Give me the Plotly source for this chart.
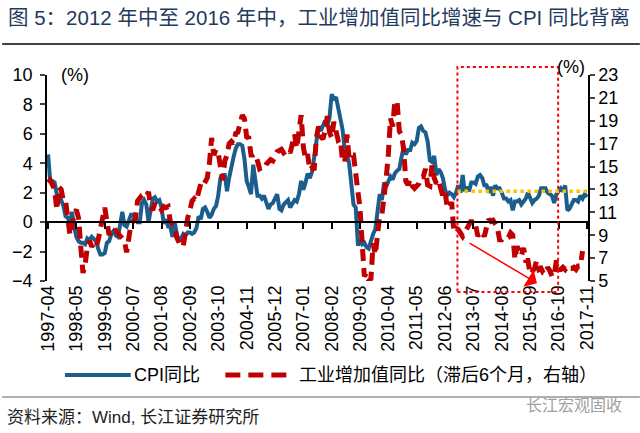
import pandas as pd
import plotly.graph_objects as go

# ---------------- data ----------------
# CPI YoY (%), monthly 1997-04 .. 2017-11 (left axis)
cpi_1997 = [4.6, 2.8, 2.8, 2.7, 1.9, 1.8, 1.5, 1.1, 0.4]
cpi_1998 = [0.3, -0.1, 0.7, -0.3, -1.0, -1.3, -1.4, -1.4, -1.5, -1.1, -1.2, -1.0]
cpi_1999 = [-1.2, -1.3, -1.8, -2.2, -2.2, -2.1, -1.4, -1.3, -0.8, -0.6, -0.9, -1.0]
cpi_2000 = [-0.2, 0.7, -0.2, -0.3, 0.1, 0.5, 0.5, 0.3, 0.0, 0.0, 1.3, 1.5]
cpi_2001 = [1.2, 0.0, 0.8, 1.6, 1.7, 1.4, 1.5, 1.0, -0.1, 0.2, -0.3, -0.3]
cpi_2002 = [-1.0, 0.0, -0.8, -1.3, -1.1, -0.8, -0.9, -0.7, -0.7, -0.8, -0.7, -0.4]
cpi_2003 = [0.4, 0.2, 0.9, 1.0, 0.7, 0.3, 0.5, 0.9, 1.1, 1.8, 3.0, 3.2]
cpi_2004 = [3.2, 2.1, 3.0, 3.8, 4.4, 5.0, 5.3, 5.3, 5.2, 4.3, 2.8, 2.4]
cpi_2005 = [1.9, 3.9, 2.7, 1.8, 1.8, 1.6, 1.8, 1.3, 0.9, 1.2, 1.3, 1.6]
cpi_2006 = [1.9, 0.9, 0.8, 1.2, 1.4, 1.5, 1.0, 1.3, 1.5, 1.4, 1.9, 2.8]
cpi_2007 = [2.2, 2.7, 3.3, 3.0, 3.4, 4.4, 5.6, 6.5, 6.2, 6.5, 6.9, 6.5]
cpi_2008 = [7.1, 8.7, 8.3, 8.5, 7.7, 7.1, 6.3, 4.9, 4.6, 4.0, 2.4, 1.2]
cpi_2009 = [1.0, -1.6, -1.2, -1.5, -1.4, -1.7, -1.8, -1.2, -0.8, -0.5, 0.6, 1.9]
cpi_2010 = [1.5, 2.7, 2.4, 2.8, 3.1, 2.9, 3.3, 3.5, 3.6, 4.4, 5.1, 4.6]
cpi_2011 = [4.9, 4.9, 5.4, 5.3, 5.5, 6.4, 6.5, 6.2, 6.1, 5.5, 4.2, 4.1]
cpi_2012 = [4.5, 3.2, 3.6, 3.4, 3.0, 2.2, 1.8, 2.0, 1.9, 1.7, 2.0, 2.5]
cpi_2013 = [2.0, 3.2, 2.1, 2.4, 2.1, 2.7, 2.7, 2.6, 3.1, 3.2, 3.0, 2.5]
cpi_2014 = [2.5, 2.0, 2.4, 1.8, 2.5, 2.3, 2.3, 2.0, 1.6, 1.6, 1.4, 1.5]
cpi_2015 = [0.8, 1.4, 1.4, 1.5, 1.2, 1.4, 1.6, 2.0, 1.6, 1.3, 1.5, 1.6]
cpi_2016 = [1.8, 2.3, 2.3, 2.3, 2.0, 1.9, 1.8, 1.3, 1.9, 2.1, 2.3, 2.1]
cpi_2017 = [2.5, 0.8, 0.9, 1.2, 1.5, 1.5, 1.4, 1.8, 1.6, 1.9, 1.7]

# Industrial value added YoY (%), source months 1996-10 .. 2017-03,
# plotted 6 months later (1997-04 .. 2017-09), right axis
iva_1996 = [13.6, 13.8, 13.4]
iva_1997 = [13.0, 11.2, 13.2, 13.0, 12.0, 12.0, 10.5, 9.0, 9.8, 11.0, 11.2, 10.5]
iva_1998 = [8.0, 5.7, 6.5, 8.0, 8.5, 8.0, 8.3, 8.0, 8.6, 9.7, 10.5, 11.4]
iva_1999 = [10.2, 9.0, 9.5, 9.3, 9.4, 9.2, 9.0, 8.8, 8.5, 7.5, 8.6, 10.0]
iva_2000 = [10.2, 10.5, 12.0, 12.3, 12.5, 12.6, 12.4, 12.8, 11.5, 11.2, 11.8, 11.5]
iva_2001 = [11.5, 11.2, 11.5, 11.4, 11.5, 10.2, 10.0, 9.8, 8.8, 8.3, 8.0, 8.1]
iva_2002 = [9.5, 10.5, 11.2, 12.0, 12.2, 12.0, 12.8, 13.5, 13.3, 13.8, 14.0, 15.3]
iva_2003 = [17.5, 16.0, 16.5, 16.2, 15.0, 13.8, 15.5, 16.0, 17.0, 17.2, 17.0, 17.9]
iva_2004 = [18.0, 19.0, 19.5, 19.2, 17.6, 17.5, 16.0, 16.0, 16.1, 15.5, 14.8, 14.9]
iva_2005 = [14.8, 15.2, 15.5, 15.6, 15.5, 16.0, 16.3, 16.4, 16.5, 16.2, 16.4, 16.5]
iva_2006 = [16.2, 17.3, 17.8, 16.6, 17.9, 19.5, 16.7, 15.7, 16.1, 14.7, 14.9, 14.7]
iva_2007 = [17.5, 18.5, 17.6, 17.4, 18.1, 19.4, 18.0, 17.5, 18.9, 17.9, 17.3, 17.4]
iva_2008 = [15.4, 15.4, 17.8, 15.7, 16.0, 16.0, 14.7, 12.8, 11.4, 8.2, 5.4, 5.7]
iva_2009 = [5.0, 5.2, 8.3, 7.3, 8.9, 10.7, 10.8, 12.3, 13.9, 16.1, 19.2, 18.5]
iva_2010 = [20.7, 20.7, 18.1, 17.8, 16.5, 13.7, 13.4, 13.9, 13.3, 13.1, 13.3, 13.5]
iva_2011 = [14.1, 14.1, 14.8, 13.4, 13.3, 15.1, 14.0, 13.5, 13.8, 13.2, 12.4, 12.8]
iva_2012 = [11.4, 11.4, 11.9, 9.3, 9.6, 9.5, 9.2, 8.9, 9.2, 9.6, 10.1, 10.3]
iva_2013 = [9.9, 9.9, 8.9, 9.3, 9.2, 8.9, 9.7, 10.4, 10.2, 10.3, 10.0, 9.7]
iva_2014 = [8.6, 8.6, 8.8, 8.7, 8.8, 9.2, 9.0, 6.9, 8.0, 7.7, 7.2, 7.9]
iva_2015 = [6.8, 6.8, 5.6, 5.9, 6.1, 6.8, 6.0, 6.1, 5.7, 5.6, 6.2, 5.9]
iva_2016 = [5.4, 5.4, 6.8, 6.0, 6.0, 6.2, 6.0, 6.3, 6.1, 6.1, 6.2, 6.0]
iva_2017 = [6.3, 6.3, 7.6]

x_tick_labels = ["1997-04", "1998-05", "1999-06", "2000-07", "2001-08", "2002-09",
                 "2003-10", "2004-11", "2005-12", "2007-01", "2008-02", "2009-03",
                 "2010-04", "2011-05", "2012-06", "2013-07", "2014-08", "2015-09",
                 "2016-10", "2017-11"]

series_names = ["CPI同比", "工业增加值同比（滞后6个月，右轴）"]

cpi = (cpi_1997 + cpi_1998 + cpi_1999 + cpi_2000 + cpi_2001 + cpi_2002 + cpi_2003
       + cpi_2004 + cpi_2005 + cpi_2006 + cpi_2007 + cpi_2008 + cpi_2009 + cpi_2010
       + cpi_2011 + cpi_2012 + cpi_2013 + cpi_2014 + cpi_2015 + cpi_2016 + cpi_2017)
iva = (iva_1996 + iva_1997 + iva_1998 + iva_1999 + iva_2000 + iva_2001 + iva_2002
       + iva_2003 + iva_2004 + iva_2005 + iva_2006 + iva_2007 + iva_2008 + iva_2009
       + iva_2010 + iva_2011 + iva_2012 + iva_2013 + iva_2014 + iva_2015 + iva_2016
       + iva_2017)

cpi_dates = pd.date_range("1997-04-01", periods=len(cpi), freq="MS")
# IVA source months start 1996-10; lag of 6 months puts them from 1997-04
iva_dates = pd.date_range("1996-10-01", periods=len(iva), freq="MS") + pd.DateOffset(months=6)
tick_dates = pd.to_datetime([s + "-01" for s in x_tick_labels])

# ---------------- style ----------------
FONT = "Arial, 'Liberation Sans', 'Noto Sans CJK SC', sans-serif"
BLUE = "#1B5E8E"
RED = "#C00000"
RED_DASH = "12px,7px"
W, H = 640, 433
L, R, T, B = 45, 52, 75, 152
pw, ph = W - L - R, H - T - B


def px(xp):
    return (xp - L) / pw


def py(yp):
    return (H - B - yp) / ph


fig = go.Figure()
fig.add_trace(go.Scatter(x=cpi_dates, y=cpi, mode="lines", name=series_names[0],
                         line=dict(color=BLUE, width=4), yaxis="y", showlegend=False))
fig.add_trace(go.Scatter(x=iva_dates, y=iva, mode="lines", name=series_names[1],
                         line=dict(color=RED, width=5, dash=RED_DASH), yaxis="y2",
                         showlegend=False))

x_range = ["1997-03-17", "2017-11-16"]

fig.update_layout(
    width=W, height=H, autosize=False,
    margin=dict(l=L, r=R, t=T, b=B),
    paper_bgcolor="white", plot_bgcolor="white",
    font=dict(family=FONT, size=18, color="black"),
    showlegend=False,
    xaxis=dict(type="date", range=x_range, tickmode="array", tickvals=tick_dates,
               ticktext=x_tick_labels, tickangle=-90, showgrid=False, zeroline=False,
               showline=False, ticks="", tickfont=dict(size=18), domain=[0, 1]),
    xaxis2=dict(type="date", range=x_range, overlaying="x", anchor="free",
                position=(0 - (-4)) / 14, tickmode="array", tickvals=tick_dates,
                showticklabels=False, showline=True, linecolor="black", linewidth=1.5,
                ticks="outside", ticklen=6, tickwidth=1.5, tickcolor="black",
                showgrid=False, zeroline=False, matches="x"),
    yaxis=dict(range=[-4, 10], dtick=2, showgrid=False, zeroline=False,
               showline=True, linecolor="black", linewidth=1.5, ticks="outside",
               ticklen=5, tickwidth=1.5, tickfont=dict(size=18), ticklabelstandoff=4),
    yaxis2=dict(range=[5, 23], tick0=5, dtick=2, overlaying="y", side="right",
                showgrid=False, zeroline=False, showline=True, linecolor="black",
                linewidth=1.5, ticks="outside", ticklen=5, tickwidth=1.5,
                tickfont=dict(size=18)),
)
# empty trace so the zero-line axis is drawn
fig.add_trace(go.Scatter(x=[cpi_dates[0]], y=[0], xaxis="x2", yaxis="y", mode="none",
                         showlegend=False, hoverinfo="skip"))

LEG_Y = py(375)
shapes = [
    # rule under title
    dict(type="line", xref="paper", yref="paper", x0=px(0), x1=px(W), y0=py(44), y1=py(44),
         line=dict(color="#404040", width=2)),
    # rule above source
    dict(type="line", xref="paper", yref="paper", x0=px(0), x1=px(W), y0=py(397), y1=py(397),
         line=dict(color="#606060", width=1.2)),
    # dotted red box
    dict(type="rect", xref="x", yref="paper", x0="2012-11-20", x1="2016-09-25",
         y0=py(292), y1=py(67), line=dict(color="#FF0000", width=2, dash="dot"),
         fillcolor="rgba(0,0,0,0)"),
    # yellow dotted level line
    dict(type="line", xref="x", yref="y", x0="2012-11-20", x1="2017-11-16", y0=2.1, y1=2.1,
         line=dict(color="#FFC000", width=3.5, dash="dot")),
    # legend samples
    dict(type="line", xref="paper", yref="paper", x0=px(63), x1=px(129), y0=LEG_Y, y1=LEG_Y,
         line=dict(color=BLUE, width=4)),
    dict(type="line", xref="paper", yref="paper", x0=px(224), x1=px(287), y0=LEG_Y, y1=LEG_Y,
         line=dict(color=RED, width=5, dash="15px,8px")),
]
fig.update_layout(shapes=shapes)

ann = [
    dict(text="图 5：2012 年中至 2016 年中，工业增加值同比增速与 CPI 同比背离",
         xref="paper", yref="paper", x=px(4), y=py(18), xanchor="left", yanchor="middle",
         showarrow=False, font=dict(size=20.5, color="#1F3B5E")),
    dict(text="(%)", xref="paper", yref="paper", x=px(57), y=py(75), xanchor="left",
         yanchor="middle", showarrow=False, font=dict(size=18)),
    dict(text="(%)", xref="paper", yref="paper", x=px(555), y=py(67), xanchor="left",
         yanchor="middle", showarrow=False, font=dict(size=18)),
    # legend texts
    dict(text=series_names[0], xref="paper", yref="paper", x=px(130), y=LEG_Y,
         xanchor="left", yanchor="middle", showarrow=False, font=dict(size=18)),
    dict(text=series_names[1], xref="paper", yref="paper", x=px(296), y=LEG_Y,
         xanchor="left", yanchor="middle", showarrow=False, font=dict(size=18)),
    dict(text="资料来源：Wind, 长江证券研究所", xref="paper", yref="paper", x=px(3), y=py(417),
         xanchor="left", yanchor="middle", showarrow=False, font=dict(size=17, color="#222222")),
    dict(text="长江宏观固收", xref="paper", yref="paper", x=px(624), y=py(405),
         xanchor="right", yanchor="middle", showarrow=False,
         font=dict(size=16, color="#A0A0A0")),
    # red arrow
    dict(text="", xref="x", yref="y", axref="x", ayref="y",
         x="2015-12-05", y=-4.15, ax="2013-04-18", ay=-1.36,
         showarrow=True, arrowhead=1, arrowsize=2.2, arrowwidth=1.5, arrowcolor="#FF0000"),
]
fig.update_layout(annotations=ann)

fig.write_html("out.html", config={"displayModeBar": False},
               post_script="document.body.style.margin='0';document.body.style.padding='0';")
